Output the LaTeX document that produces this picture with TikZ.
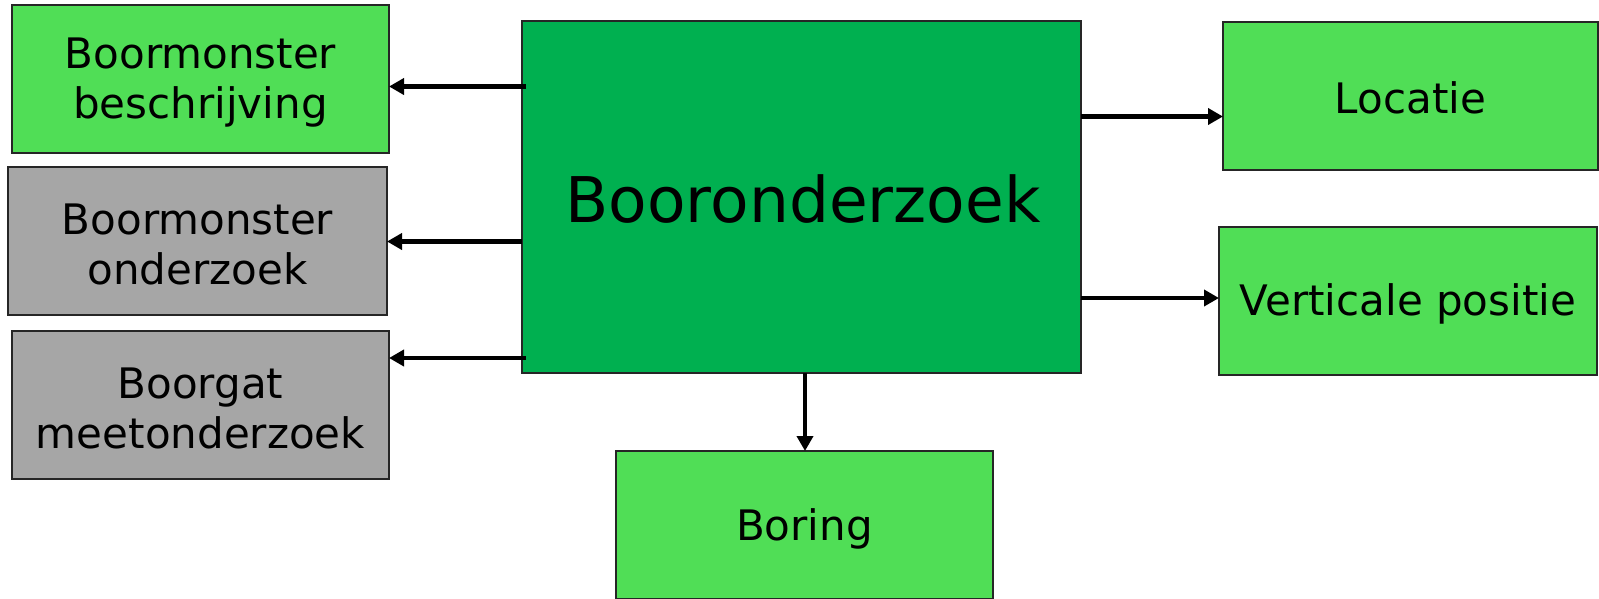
\documentclass[tikz,border=0pt]{standalone}
\usepackage{fontspec}
\setmainfont{DejaVu Sans}
\usetikzlibrary{arrows.meta}
\definecolor{lgreen}{HTML}{50DE56}
\definecolor{dgreen}{HTML}{00B050}
\definecolor{boxgray}{HTML}{A6A6A6}
\begin{document}
\begin{tikzpicture}[x=1pt,y=-1pt,
  box/.style={draw=black!85, line width=1.5pt, rectangle, inner sep=0pt, outer sep=0pt,
    anchor=north west, minimum height=148pt},
  lbl/.style={align=center, inner sep=0pt, font=\fontsize{42}{50}\selectfont},
  arr/.style={line width=4.6pt, -{Triangle[length=15pt,width=16pt]}}]
\clip (0,0) rectangle (1599,598);
\fill[white] (0,0) rectangle (1599,598);
\node[box, fill=lgreen, minimum width=377pt] (b1) at (12,5) {};
\node[box, fill=boxgray, minimum width=379pt] (b2) at (8,167) {};
\node[box, fill=boxgray, minimum width=377pt] (b3) at (12,331) {};
\node[box, fill=dgreen, minimum width=559pt, minimum height=352pt] (big) at (522,21) {};
\node[box, fill=lgreen, minimum width=375pt] (loc) at (1223,22) {};
\node[box, fill=lgreen, minimum width=378pt] (vert) at (1219,227) {};
\node[box, fill=lgreen, minimum width=377pt] (bor) at (616,451) {};
\node[lbl] (t1) at ([yshift=-4pt]b1.center) {Boormonster\\beschrijving};
\node[lbl] (t2) at ([yshift=-3pt]b2.center) {Boormonster\\onderzoek};
\node[lbl] (t3) at ([yshift=-3pt]b3.center) {Boorgat\\meetonderzoek};
\node[lbl] (t4) at ([yshift=-2pt]loc.center) {Locatie};
\node[lbl] (t5) at ([yshift=-3pt]vert.center) {Verticale positie};
\node[lbl] (t6) at ([yshift=-4pt]bor.center) {Boring};
\node[font=\fontsize{63}{70}\selectfont, inner sep=0pt] (bigtxt) at ([xshift=1.5pt,yshift=-2pt]big.center) {Booronderzoek};
\draw[arr] ([xshift=4pt]big.west |- 0,86.5) -- (b1.east |- 0,86.5);
\draw[arr] (big.west |- 0,241.5) -- (b2.east |- 0,241.5);
\draw[arr] ([xshift=4pt]big.west |- 0,358) -- (b3.east |- 0,358);
\draw[arr] (big.east |- 0,116.5) -- (loc.west |- 0,116.5);
\draw[arr] (big.east |- 0,298) -- (vert.west |- 0,298);
\draw[arr] (big.south -| 805,0) -- (bor.north -| 805,0);
\end{tikzpicture}
\end{document}
